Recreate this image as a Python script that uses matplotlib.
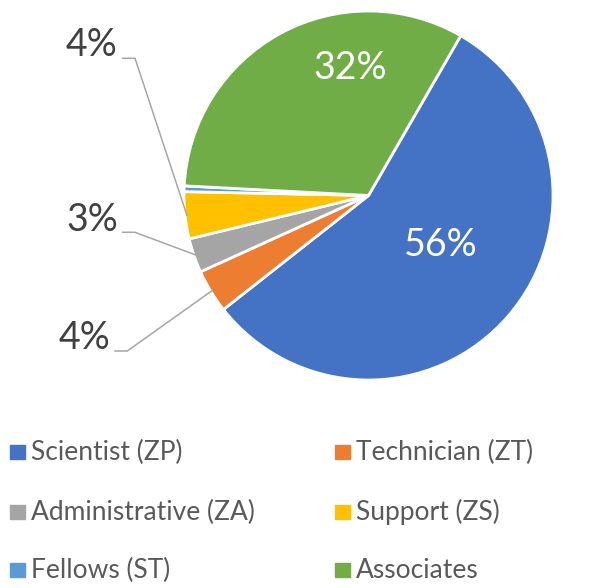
import matplotlib.pyplot as plt
import numpy as np
from matplotlib.patches import Rectangle

categories = ['Scientist (ZP)', 'Technician (ZT)', 'Administrative (ZA)',
              'Support (ZS)', 'Fellows (ST)', 'Associates']
shares = [55.9, 3.8, 3.0, 4.1, 0.5, 32.4]
pct_labels = ['56%', '4%', '3%', '4%', '', '32%']
colors = ['#4472C4', '#ED7D31', '#A5A5A5', '#FFC000', '#5B9BD5', '#70AD47']

plt.rcParams['font.family'] = ['Lato', 'DejaVu Sans']

W, H = 613, 588
fig = plt.figure(figsize=(W / 100, H / 100), dpi=100)
cx, cy, r = 368.5, 195.5, 184.5
ax = fig.add_axes([(cx - r) / W, (H - cy - r) / H, 2 * r / W, 2 * r / H])
wedges, _ = ax.pie(shares, colors=colors, startangle=60, counterclock=False,
                   wedgeprops=dict(edgecolor='white', linewidth=2))
ax.set_xlim(-1, 1)
ax.set_ylim(-1, 1)


def to_data(px, py):
    return (px - cx) / r, (cy - py) / r


# inside labels
inside_pos = {0: (440.8, 245), 5: (350.5, 68.3)}
for i, (px, py) in inside_pos.items():
    x, y = to_data(px, py)
    ax.text(x, y, pct_labels[i], ha='center', va='center', fontsize=27,
            color='white')

# outside labels with leader lines
outside_pos = {3: ((91.7, 45), (122.7, 58.3)),
               2: ((92.5, 220), (122.7, 232.3)),
               1: ((84.3, 338.3), (115, 351))}
for i, ((px, py), (lx, ly)) in outside_pos.items():
    x, y = to_data(px, py)
    ax.text(x, y, pct_labels[i], ha='center', va='center', fontsize=27,
            color='#404040', clip_on=False)
    w = wedges[i]
    mid = np.deg2rad((w.theta1 + w.theta2) / 2)
    ex, ey = np.cos(mid) * 0.99, np.sin(mid) * 0.99
    x0, y0 = to_data(lx, ly)
    x1, y1 = to_data(lx + 12.3, ly)
    ax.plot([x0, x1, ex], [y0, y1, ey], color='#A6A6A6', linewidth=1.1,
            clip_on=False, solid_joinstyle='miter')

# legend, laid out row by row
row_y = [452, 512, 570]
sq_x = [10, 335]
txt_x = [31, 356]
for k, (lab, c) in enumerate(zip(categories, colors)):
    row, col = divmod(k, 2)
    y = row_y[row]
    fig.add_artist(Rectangle((sq_x[col] / W, 1 - (y + 7) / H), 15 / W, 14 / H,
                             transform=fig.transFigure, color=c))
    fig.text(txt_x[col] / W, 1 - y / H, lab, va='center', ha='left',
             fontsize=19, color='#595959')

fig.savefig('out.png', dpi=100)
